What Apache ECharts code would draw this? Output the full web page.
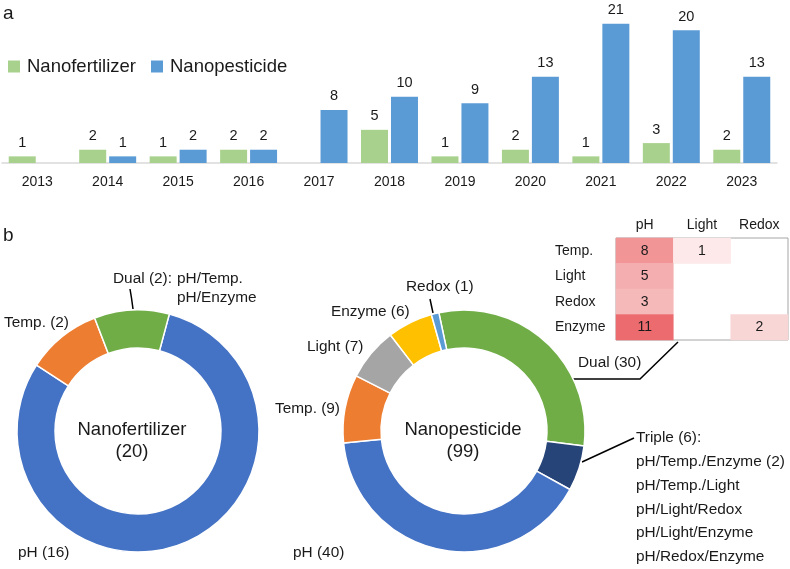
<!DOCTYPE html>
<html>
<head>
<meta charset="utf-8">
<script src="https://cdn.jsdelivr.net/npm/echarts@6/dist/echarts.min.js"></script>
<style>
html,body{margin:0;padding:0;background:#fff;}
#chart{width:790px;height:569px;}
</style>
</head>
<body>
<div id="chart"></div>
<script>
// ---------- DATA ----------
const years = ['2013','2014','2015','2016','2017','2018','2019','2020','2021','2022','2023'];
const nanofertilizer = [1, 2, 1, 2, null, 5, 1, 2, 1, 3, 2];
const nanopesticide  = [null, 1, 2, 2, 8, 10, 9, 13, 21, 20, 13];

const fertTypes  = ['pH', 'Temp.', 'Dual'];
const fertCounts = [16, 2, 2];
const fertDualCombos = ['pH/Temp.', 'pH/Enzyme'];

const pestTypes  = ['Dual', 'Triple', 'pH', 'Temp.', 'Light', 'Enzyme', 'Redox'];
const pestCounts = [30, 6, 40, 9, 7, 6, 1];
const tripleCombos = ['pH/Temp./Enzyme (2)', 'pH/Temp./Light', 'pH/Light/Redox', 'pH/Light/Enzyme', 'pH/Redox/Enzyme'];

const dualCols = ['pH', 'Light', 'Redox'];
const dualRows = ['Temp.', 'Light', 'Redox', 'Enzyme'];
// [colIndex, rowIndex, count]
const dualCounts = [[0,0,8],[1,0,1],[0,1,5],[0,2,3],[0,3,11],[2,3,2]];

// ---------- STYLE / LAYOUT ----------
const FONT = 'Liberation Sans, Arial, Helvetica, sans-serif';
const TXT = '#1a1a1a';
const LBL = 15.4;
const typeColor = {
  'pH': '#4472C4', 'Temp.': '#ED7D31', 'Dual': '#70AD47', 'Light': '#A5A5A5',
  'Enzyme': '#FFC000', 'Redox': '#5B9BD5', 'Triple': '#264478'
};
const heatColors = ['#fde9e9','#f9d6d6','#f6b9ba','#f5b3b4','#f4aeaf','#f3a5a6','#f29d9f','#f19597','#ef8588','#ee7a7c','#ec6b6e'];

// label anchor positions (left edge x, middle y) and leader lines
const fertLabelLayout = {
  'pH':    {x: 18,  y: 553},
  'Temp.': {x: 4,   y: 323},
  'Dual':  {x: 113, y: 288.5, line: [[133,309],[131.5,298],[130,289]]}
};
const pestLabelLayout = {
  'Dual':   {x: 578, y: 363, line: [[573,379],[640,379],[678,342]]},
  'Triple': {x: 636, y: 497.5, line: [[582,462],[608,450],[634,438]]},
  'pH':     {x: 293, y: 553},
  'Temp.':  {x: 275, y: 409},
  'Light':  {x: 307, y: 347},
  'Enzyme': {x: 331, y: 312},
  'Redox':  {x: 406, y: 287, line: [[433,313],[431.5,306],[430,299]]}
};

const sum = a => a.reduce((s, v) => s + v, 0);

function pieSeries(types, counts, center, startAngle, layout, labelFn) {
  return {
    type: 'pie',
    center: center,
    radius: [83, 121],
    startAngle: startAngle,
    clockwise: true,
    avoidLabelOverlap: false,
    silent: true,
    emphasis: {disabled: true},
    itemStyle: {borderColor: '#fff', borderWidth: 1.5},
    label: {
      show: true, position: 'outside', fontSize: LBL, fontFamily: FONT, color: TXT,
      lineHeight: 19,
      formatter: p => labelFn(p.name, p.value),
      rich: {h: {width: 64, fontSize: LBL, fontFamily: FONT, lineHeight: 19, color: TXT}}
    },
    labelLine: {show: false, lineStyle: {color: '#000', width: 1.5}},
    labelLayout: p => {
      const t = types[p.dataIndex];
      const L = layout[t];
      const r = {x: L.x, y: L.y, align: 'left', verticalAlign: 'middle'};
      if (L.line) r.labelLinePoints = L.line;
      return r;
    },
    data: types.map((t, i) => ({
      name: t, value: counts[i],
      itemStyle: {color: typeColor[t]},
      labelLine: {show: !!layout[t].line},
      label: t === 'Triple' ? {lineHeight: 23.8} : undefined
    }))
  };
}

const fertLabel = (name, v) => name === 'Dual'
  ? '{h|Dual (' + v + '): }' + fertDualCombos[0] + '\n{h|}' + fertDualCombos.slice(1).join('\n{h|}')
  : name + ' (' + v + ')';
const pestLabel = (name, v) => name === 'Triple'
  ? 'Triple (' + v + '):\n' + tripleCombos.join('\n')
  : name + ' (' + v + ')';

const chart = echarts.init(document.getElementById('chart'), null, {renderer: 'canvas'});
const option = {
  animation: false,
  textStyle: {fontFamily: FONT},
  legend: {
    data: ['Nanofertilizer', 'Nanopesticide'],
    left: 8, top: 57, padding: 0, itemWidth: 12, itemHeight: 12, itemGap: 15, icon: 'rect',
    textStyle: {fontSize: 18.5, color: TXT, fontFamily: FONT, padding: [0, 0, 0, 2]}
  },
  grid: [
    {left: 2, right: 13, top: 17, height: 146},
    {left: 616, top: 238, width: 172, height: 102, show: true, borderColor: '#a6a6a6', borderWidth: 1, backgroundColor: 'transparent'}
  ],
  xAxis: [
    {gridIndex: 0, type: 'category', data: years,
     axisLine: {lineStyle: {color: '#d9d9d9', width: 1.5}}, axisTick: {show: false},
     axisLabel: {fontSize: 14, color: TXT, margin: 12, fontFamily: FONT}},
    {gridIndex: 1, type: 'category', data: dualCols, position: 'top',
     axisLine: {show: false}, axisTick: {show: false}, splitLine: {show: false},
     axisLabel: {fontSize: 14, color: TXT, margin: 6, fontFamily: FONT}}
  ],
  yAxis: [
    {gridIndex: 0, type: 'value', min: 0, max: 22, show: false},
    {gridIndex: 1, type: 'category', data: dualRows, inverse: true,
     axisLine: {show: false}, axisTick: {show: false}, splitLine: {show: false},
     axisLabel: {fontSize: 14, color: TXT, align: 'left', margin: 61, fontFamily: FONT}}
  ],
  visualMap: {show: false, type: 'continuous', seriesIndex: 2, min: 1, max: 11, dimension: 2,
              inRange: {color: heatColors}},
  series: [
    {name: 'Nanofertilizer', type: 'bar', xAxisIndex: 0, yAxisIndex: 0, data: nanofertilizer,
     barWidth: 27, barGap: '11%', itemStyle: {color: '#A9D18E'}, silent: true,
     label: {show: true, position: 'top', distance: 6, fontSize: 14.5, color: TXT, fontFamily: FONT}},
    {name: 'Nanopesticide', type: 'bar', xAxisIndex: 0, yAxisIndex: 0, data: nanopesticide,
     barWidth: 27, barGap: '11%', itemStyle: {color: '#5B9BD5'}, silent: true,
     label: {show: true, position: 'top', distance: 6, fontSize: 14.5, color: TXT, fontFamily: FONT}},
    {type: 'heatmap', xAxisIndex: 1, yAxisIndex: 1, data: dualCounts, silent: true,
     label: {show: true, fontSize: 14, color: TXT, fontFamily: FONT}},
    pieSeries(fertTypes, fertCounts, [138, 431], 75, fertLabelLayout, fertLabel),
    pieSeries(pestTypes, pestCounts, [464, 431], 102, pestLabelLayout, pestLabel)
  ],
  graphic: [
    {type: 'text', x: 3, y: 14, style: {text: 'a', fontSize: 19, fontFamily: FONT, fill: TXT, verticalAlign: 'middle'}},
    {type: 'text', x: 3, y: 236, style: {text: 'b', fontSize: 19, fontFamily: FONT, fill: TXT, verticalAlign: 'middle'}},
    {type: 'text', x: 132, y: 441, style: {text: 'Nanofertilizer\n(' + sum(fertCounts) + ')', align: 'center', verticalAlign: 'middle', fontSize: 18.5, lineHeight: 22, fontFamily: FONT, fill: TXT}},
    {type: 'text', x: 463, y: 441, style: {text: 'Nanopesticide\n(' + sum(pestCounts) + ')', align: 'center', verticalAlign: 'middle', fontSize: 18.5, lineHeight: 22, fontFamily: FONT, fill: TXT}}
  ]
};
chart.setOption(option);
</script>
</body>
</html>
